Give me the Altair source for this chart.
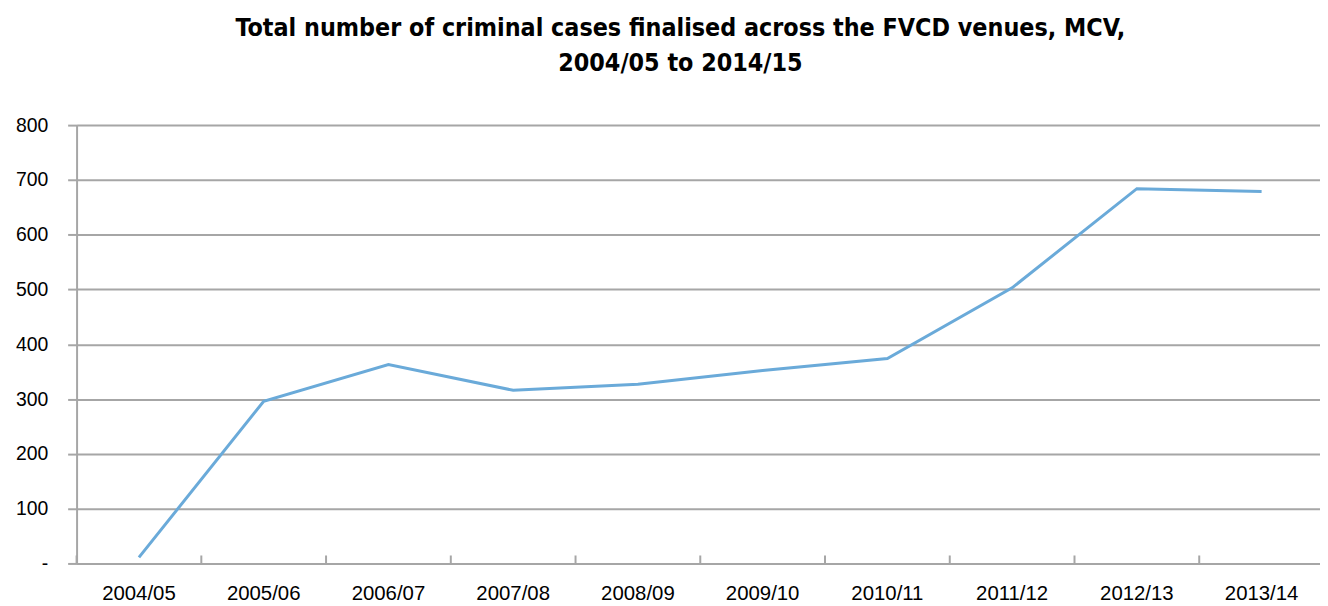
import altair as alt
import pandas as pd

years = ["2004/05", "2005/06", "2006/07", "2007/08", "2008/09",
         "2009/10", "2010/11", "2011/12", "2012/13", "2013/14"]
cases = [11, 296, 363, 316, 327, 352, 374, 503, 684, 679]

df = pd.DataFrame({"year": years, "cases": cases})

W, H = 1243, 441
GRID = "#A6A6A6"

xscale = alt.Scale(domain=years, paddingInner=0, paddingOuter=0, range=[0, 1255])
yscale = alt.Scale(domain=[0, 800], nice=False)

xaxis = alt.Axis(labelAngle=0, labelFontSize=20.5, labelColor="black",
                 labelFont="Liberation Sans", ticks=False,
                 bandPosition=0.5, labelAlign="center",
                 domainColor=GRID, domainWidth=2, labelPadding=20)

base = alt.Chart(df)

line = base.mark_line(color="#6AAAD9", strokeWidth=3).encode(
    x=alt.X("year:N", scale=xscale, sort=years, title=None, axis=xaxis),
    y=alt.Y("cases:Q", scale=yscale, title=None,
            axis=alt.Axis(values=[0, 100, 200, 300, 400, 500, 600, 700, 800],
                          labelExpr="datum.value == 0 ? '-' : datum.label",
                          labelFontSize=19.5, labelColor="black",
                          labelFont="Liberation Sans", labelPadding=20,
                          tickSize=9, tickColor=GRID, tickWidth=2,
                          gridColor=GRID, gridWidth=2, gridOpacity=1,
                          domainColor=GRID, domainWidth=2)),
)

ticks = base.mark_rule(color=GRID, strokeWidth=2).encode(
    x=alt.X("year:N", scale=xscale, sort=years, bandPosition=0, title=None, axis=xaxis),
    y=alt.value(H - 8),
    y2=alt.value(H),
)

chart = alt.layer(line, ticks).properties(
    width=W, height=H,
    title=alt.TitleParams(
        ["Total number of criminal cases finalised across the FVCD venues, MCV,",
         "2004/05 to 2014/15"],
        font="DejaVu Sans Condensed", fontSize=25, fontWeight="bold",
        color="black", anchor="middle", offset=39, lineHeight=36, dx=-14,
    ),
    autosize=alt.AutoSizeParams(type="none"),
    padding={"left": 69, "top": 116, "right": 8, "bottom": 41},
).configure_view(stroke=None).configure_axis(grid=False).configure_axisY(grid=True)

chart.save("out.html", embed_options={"renderer": "svg", "actions": False})
